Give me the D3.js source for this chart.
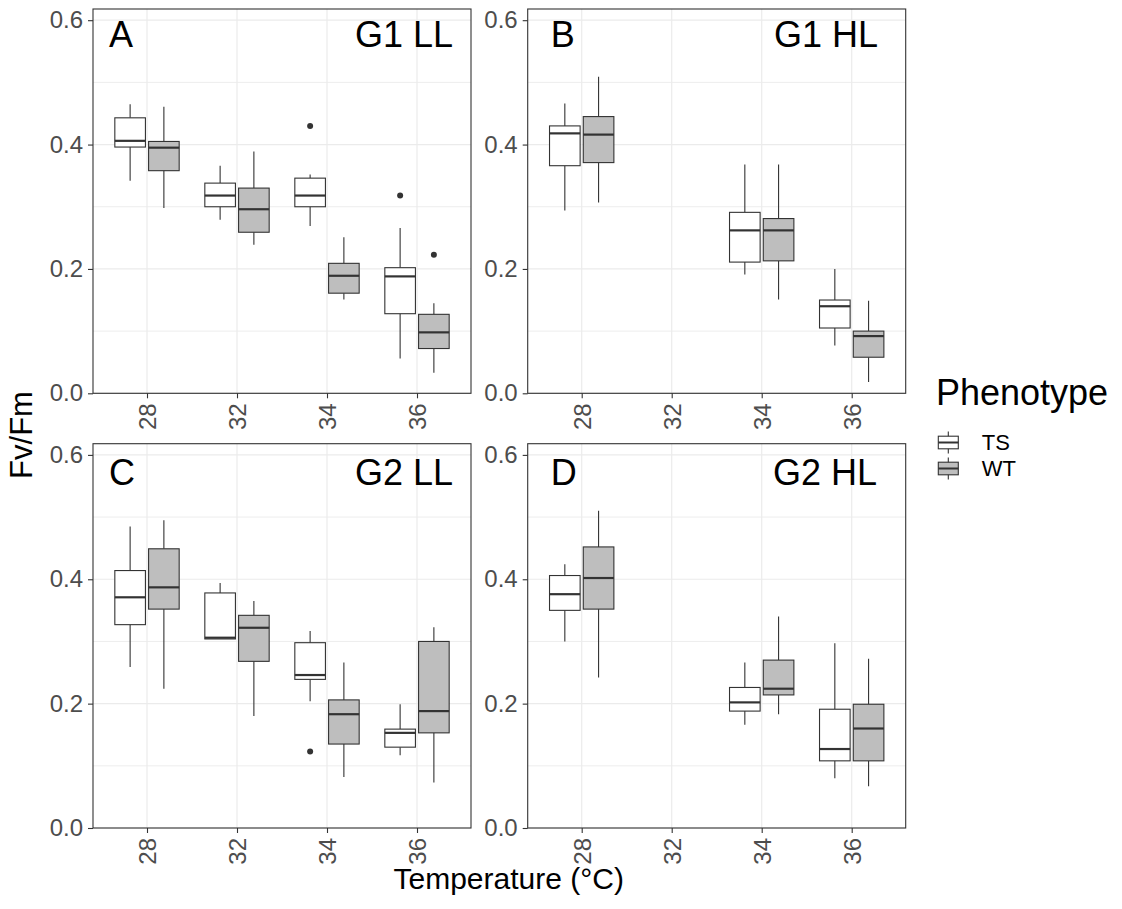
<!DOCTYPE html>
<html>
<head>
<meta charset="utf-8">
<script src="https://cdn.jsdelivr.net/npm/d3@7"></script>
<style>
  body { margin: 0; background: #fff; }
  svg { display: block; font-family: "Liberation Sans", Arial, sans-serif; }
</style>
</head>
<body>
<svg id="chart" width="1122" height="909"></svg>
<script>
// categories
var temps = ["28", "32", "34", "36"];
var phenotypes = ["TS", "WT"];
var yTicks = [0, 0.2, 0.4, 0.6];
var yMinor = [0.1, 0.3, 0.5];

// box stats: temperature, phenotype, lower whisker, Q1, median, Q3, upper whisker
var boxesA = [
  ["28", "TS", 0.342, 0.396, 0.406, 0.443, 0.465],
  ["28", "WT", 0.298, 0.358, 0.395, 0.405, 0.461],
  ["32", "TS", 0.279, 0.300, 0.318, 0.338, 0.366],
  ["32", "WT", 0.239, 0.259, 0.296, 0.330, 0.389],
  ["34", "TS", 0.269, 0.300, 0.318, 0.346, 0.352],
  ["34", "WT", 0.151, 0.161, 0.189, 0.209, 0.251],
  ["36", "TS", 0.056, 0.128, 0.188, 0.202, 0.266],
  ["36", "WT", 0.033, 0.072, 0.098, 0.127, 0.145]
];
var outliersA = [["34", "TS", 0.430], ["36", "TS", 0.318], ["36", "WT", 0.223]];

var boxesB = [
  ["28", "TS", 0.294, 0.366, 0.418, 0.430, 0.466],
  ["28", "WT", 0.307, 0.371, 0.416, 0.445, 0.509],
  ["34", "TS", 0.191, 0.211, 0.262, 0.291, 0.368],
  ["34", "WT", 0.151, 0.213, 0.262, 0.281, 0.368],
  ["36", "TS", 0.077, 0.105, 0.140, 0.150, 0.200],
  ["36", "WT", 0.018, 0.058, 0.092, 0.100, 0.149]
];
var outliersB = [];

var boxesC = [
  ["28", "TS", 0.259, 0.327, 0.371, 0.414, 0.485],
  ["28", "WT", 0.224, 0.352, 0.387, 0.449, 0.495],
  ["32", "TS", 0.304, 0.304, 0.306, 0.378, 0.394],
  ["32", "WT", 0.180, 0.268, 0.322, 0.342, 0.365],
  ["34", "TS", 0.204, 0.239, 0.246, 0.298, 0.317],
  ["34", "WT", 0.082, 0.135, 0.183, 0.206, 0.266],
  ["36", "TS", 0.117, 0.130, 0.153, 0.159, 0.199],
  ["36", "WT", 0.073, 0.153, 0.188, 0.300, 0.323]
];
var outliersC = [["34", "TS", 0.123]];

var boxesD = [
  ["28", "TS", 0.300, 0.350, 0.376, 0.406, 0.424],
  ["28", "WT", 0.242, 0.352, 0.402, 0.452, 0.510],
  ["34", "TS", 0.166, 0.188, 0.202, 0.226, 0.266],
  ["34", "WT", 0.183, 0.214, 0.224, 0.270, 0.340],
  ["36", "TS", 0.080, 0.108, 0.127, 0.191, 0.297],
  ["36", "WT", 0.067, 0.108, 0.160, 0.199, 0.272]
];
var outliersD = [];

var panels = [
  {tag: "A", title: "G1 LL", boxes: boxesA, outliers: outliersA, col: 0, row: 0},
  {tag: "B", title: "G1 HL", boxes: boxesB, outliers: outliersB, col: 1, row: 0},
  {tag: "C", title: "G2 LL", boxes: boxesC, outliers: outliersC, col: 0, row: 1},
  {tag: "D", title: "G2 HL", boxes: boxesD, outliers: outliersD, col: 1, row: 1}
];

//layout
var colX = [93, 527.7];
var rowY = [9, 443.7];
var pw = 378, ph = 384.3;
var tagDx = [16, 23];
var titleDx = [[262, 246.3], [262, 245.3]];
var labelDy = [38, 41];
var fillColor = d3.scaleOrdinal().domain(phenotypes).range(["#FFFFFF", "#BEBEBE"]);
var ink = "#333333";

var svg = d3.select("#chart");

panels.forEach(function(p) {
  var g = svg.append("g")
    .attr("transform", "translate(" + colX[p.col] + "," + rowY[p.row] + ")");

  var x = d3.scalePoint().domain(temps).range([0, pw]).padding(0.6);
  var dodge = d3.scaleBand().domain(phenotypes)
    .range([-0.375 * x.step(), 0.375 * x.step()]);
  var y = d3.scaleLinear().domain([0, 0.618]).range([ph, 0]);
  var bw = 0.34 * x.step();
  var cx = function(t, ph_) { return x(t) + dodge(ph_) + dodge.bandwidth() / 2; };

  //grid
  g.append("g").selectAll("line").data(yMinor).enter().append("line")
    .attr("x1", 0).attr("x2", pw)
    .attr("y1", d => y(d)).attr("y2", d => y(d))
    .attr("stroke", "#EBEBEB").attr("stroke-width", 0.9);
  g.append("g").selectAll("line").data(yTicks).enter().append("line")
    .attr("x1", 0).attr("x2", pw)
    .attr("y1", d => y(d)).attr("y2", d => y(d))
    .attr("stroke", "#EBEBEB").attr("stroke-width", 1.2);
  g.append("g").selectAll("line").data(temps).enter().append("line")
    .attr("x1", d => x(d)).attr("x2", d => x(d))
    .attr("y1", 0).attr("y2", ph)
    .attr("stroke", "#EBEBEB").attr("stroke-width", 1.2);

  //boxes
  var box = g.append("g").selectAll("g.box").data(p.boxes).enter().append("g")
    .attr("class", "box");
  box.append("line")
    .attr("x1", d => cx(d[0], d[1])).attr("x2", d => cx(d[0], d[1]))
    .attr("y1", d => y(d[6])).attr("y2", d => y(d[5]))
    .attr("stroke", ink).attr("stroke-width", 1.1);
  box.append("line")
    .attr("x1", d => cx(d[0], d[1])).attr("x2", d => cx(d[0], d[1]))
    .attr("y1", d => y(d[3])).attr("y2", d => y(d[2]))
    .attr("stroke", ink).attr("stroke-width", 1.1);
  box.append("rect")
    .attr("x", d => cx(d[0], d[1]) - bw / 2)
    .attr("width", bw)
    .attr("y", d => y(d[5]))
    .attr("height", d => y(d[3]) - y(d[5]))
    .attr("fill", d => fillColor(d[1]))
    .attr("stroke", ink).attr("stroke-width", 1.1);
  box.append("line")
    .attr("x1", d => cx(d[0], d[1]) - bw / 2).attr("x2", d => cx(d[0], d[1]) + bw / 2)
    .attr("y1", d => y(d[4])).attr("y2", d => y(d[4]))
    .attr("stroke", ink).attr("stroke-width", 2.2);

  g.append("g").selectAll("circle").data(p.outliers).enter().append("circle")
    .attr("cx", d => cx(d[0], d[1]))
    .attr("cy", d => y(d[2]))
    .attr("r", 3)
    .attr("fill", ink);

  //border
  g.append("rect")
    .attr("width", pw).attr("height", ph)
    .attr("fill", "none").attr("stroke", ink).attr("stroke-width", 1.1);

  //axes
  var ya = g.append("g")
    .call(d3.axisLeft(y).tickValues(yTicks).tickFormat(d3.format(".1f")).tickSize(5).tickPadding(5));
  ya.select(".domain").remove();
  ya.selectAll("line").attr("stroke", ink).attr("stroke-width", 1.1);
  ya.selectAll("text").attr("fill", "#4D4D4D").style("font-size", "24px")
    .attr("font-family", null);

  var xa = g.append("g").attr("transform", "translate(0," + ph + ")")
    .call(d3.axisBottom(x).tickSize(5));
  xa.select(".domain").remove();
  xa.selectAll("line").attr("stroke", ink).attr("stroke-width", 1.1);
  xa.selectAll("text")
    .attr("fill", "#4D4D4D").style("font-size", "24px").attr("font-family", null)
    .attr("transform", "rotate(-90)")
    .attr("text-anchor", "end")
    .attr("x", -10).attr("y", 0).attr("dy", "0.35em");

  //panel tags
  g.append("text")
    .attr("x", tagDx[p.col]).attr("y", labelDy[p.row])
    .style("font-size", "36px").attr("fill", "#000")
    .text(p.tag);
  g.append("text")
    .attr("x", titleDx[p.row][p.col]).attr("y", labelDy[p.row])
    .style("font-size", "36px").attr("fill", "#000")
    .text(p.title);
});

//axis titles
svg.append("text")
  .attr("transform", "translate(32,435) rotate(-90)")
  .attr("text-anchor", "middle")
  .style("font-size", "31px")
  .text("Fv/Fm");
svg.append("text")
  .attr("x", 508.7).attr("y", 889)
  .attr("text-anchor", "middle")
  .style("font-size", "30px")
  .text("Temperature (°C)");

//legend
var legend = svg.append("g");
legend.append("text")
  .attr("x", 936).attr("y", 405)
  .style("font-size", "36px")
  .text("Phenotype");
var keyY = d3.scalePoint().domain(phenotypes).range([442.5, 468.5]);
var key = legend.selectAll("g.key").data(phenotypes).enter().append("g")
  .attr("class", "key")
  .attr("transform", d => "translate(948.3," + keyY(d) + ")");
key.append("line")
  .attr("x1", 0).attr("x2", 0).attr("y1", -11).attr("y2", 11)
  .attr("stroke", ink).attr("stroke-width", 1.1);
key.append("rect")
  .attr("x", -10).attr("y", -6.3).attr("width", 20).attr("height", 12.6)
  .attr("fill", d => fillColor(d))
  .attr("stroke", ink).attr("stroke-width", 1.1);
key.append("line")
  .attr("x1", -10).attr("x2", 10).attr("y1", 0).attr("y2", 0)
  .attr("stroke", ink).attr("stroke-width", 2);
key.append("text")
  .attr("x", 33.4).attr("y", 7.5)
  .style("font-size", "22px")
  .text(d => d);
</script>
</body>
</html>
